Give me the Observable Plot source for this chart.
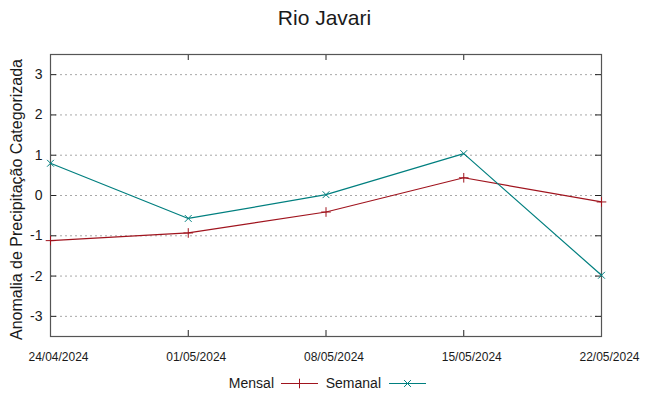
<!DOCTYPE html>
<html>
<head>
<meta charset="utf-8">
<script src="https://cdn.jsdelivr.net/npm/d3@7"></script>
<script src="https://cdn.jsdelivr.net/npm/@observablehq/plot@0.6"></script>
<style>
  html, body { margin: 0; padding: 0; background: #fff; }
  #wrap { position: relative; width: 649px; height: 396px; font-family: "Liberation Sans", Arial, sans-serif; color: #1a1a1a; }
  #title { position: absolute; left: 0; top: 6px; width: 649px; text-align: center; font-size: 21px; }
  #legend { position: absolute; left: 0; top: 374px; width: 649px; height: 18px; font-size: 14px; }
  #legend .item { position: absolute; top: 0; display: flex; align-items: center; height: 18px; }
  #legend svg { display: block; }
</style>
</head>
<body>
<div id="wrap">
  <div id="chart"></div>
  <div id="title"></div>
  <div id="legend"></div>
</div>
<script>
const title = "Rio Javari";
const yLabel = "Anomalia de Precipitação Categorizada";
const dates = ["2024-04-24", "2024-05-01", "2024-05-08", "2024-05-15", "2024-05-22"];
const mensal = [-1.12, -0.93, -0.41, 0.44, -0.16];
const semanal = [0.80, -0.57, 0.02, 1.04, -1.98];
const yTicks = [-3, -2, -1, 0, 1, 2, 3];
const seriesNames = ["Mensal", "Semanal"];
const seriesColors = ["#a0141e", "#007f7f"];
const seriesSymbols = ["plus", "times"];

const W = 649, H = 396;
const mL = 50, mR = 48, mT = 54, mB = 60;
const pw = W - mL - mR, ph = H - mT - mB;
const tickLen = 6;

const xDates = dates.map(d => new Date(d + "T00:00:00Z"));
const rows = [];
seriesNames.forEach((name, si) => {
  const vals = si === 0 ? mensal : semanal;
  xDates.forEach((d, i) => rows.push({ series: name, date: d, value: vals[i] }));
});

const chart = Plot.plot({
  width: W, height: H,
  marginLeft: mL, marginRight: mR, marginTop: mT, marginBottom: mB,
  style: { fontFamily: '"Liberation Sans", Arial, sans-serif', color: "#1a1a1a", background: "#fff" },
  x: { type: "utc", domain: [xDates[0], xDates[xDates.length - 1]] },
  y: { domain: [-3.5, 3.5] },
  color: { domain: seriesNames, range: seriesColors },
  symbol: { domain: seriesNames, range: seriesSymbols },
  marks: [
    Plot.gridY(yTicks, { stroke: "#a8a8a8", strokeOpacity: 1, strokeDasharray: "2,3", strokeWidth: 1 }),
    Plot.ruleY(yTicks, { insetRight: pw - tickLen, stroke: "#222" }),
    Plot.ruleY(yTicks, { insetLeft: pw - tickLen, stroke: "#222" }),
    Plot.ruleX(xDates.slice(1, -1), { insetTop: ph - tickLen, stroke: "#222" }),
    Plot.ruleX(xDates.slice(1, -1), { insetBottom: ph - tickLen, stroke: "#222" }),
    Plot.frame({ stroke: "#555", strokeWidth: 1.2 }),
    Plot.line(rows, { x: "date", y: "value", z: "series", stroke: "series", strokeWidth: 1.2 }),
    Plot.dot(rows, { x: "date", y: "value", stroke: "series", symbol: "series", r: 3.2, strokeWidth: 1 }),
    Plot.axisY(yTicks, {
      tickSize: 0, tickPadding: 8, fontSize: 14, tickFormat: d => d < 0 ? "-" + Math.abs(d) : String(d),
      label: yLabel, labelAnchor: "center", labelArrow: "none", labelOffset: 40
    }),
    Plot.axisX(xDates, {
      tickSize: 0, tickPadding: 16, dx: 8, fontSize: 12, tickFormat: d3.utcFormat("%d/%m/%Y"), label: null
    })
  ]
});
chart.querySelectorAll("[aria-label='y-axis label']").forEach(g => {
  g.setAttribute("font-size", "16");
  g.style.fontSize = "16px";
  const wrapper = document.createElementNS("http://www.w3.org/2000/svg", "g");
  wrapper.setAttribute("transform", "translate(0,4)");
  g.parentNode.insertBefore(wrapper, g);
  wrapper.appendChild(g);
});
chart.querySelectorAll("[aria-label='y-axis label'] text").forEach(el => {
  el.setAttribute("font-size", "16");
  el.style.fontSize = "16px";
});
document.getElementById("chart").appendChild(chart);
document.getElementById("title").textContent = title;

// legend
const legend = d3.select("#legend");
const items = [
  { name: seriesNames[0], color: seriesColors[0], sym: d3.symbolPlus, textRight: 274, lineX: 281 },
  { name: seriesNames[1], color: seriesColors[1], sym: d3.symbolTimes, textRight: 381, lineX: 389 }
];
items.forEach(it => {
  legend.append("div").attr("class", "item")
    .style("right", (W - it.textRight) + "px").text(it.name);
  const s = legend.append("div").attr("class", "item").style("left", it.lineX + "px")
    .append("svg").attr("width", 38).attr("height", 18);
  s.append("line").attr("x1", 0).attr("x2", 37).attr("y1", 9.5).attr("y2", 9.5)
    .attr("stroke", it.color).attr("stroke-width", 1.2);
  s.append("path").attr("transform", "translate(18.5,9.5)")
    .attr("d", d3.symbol(it.sym, Math.PI * 3.2 * 3.2)())
    .attr("fill", "none").attr("stroke", it.color).attr("stroke-width", 1);
});
</script>
</body>
</html>
